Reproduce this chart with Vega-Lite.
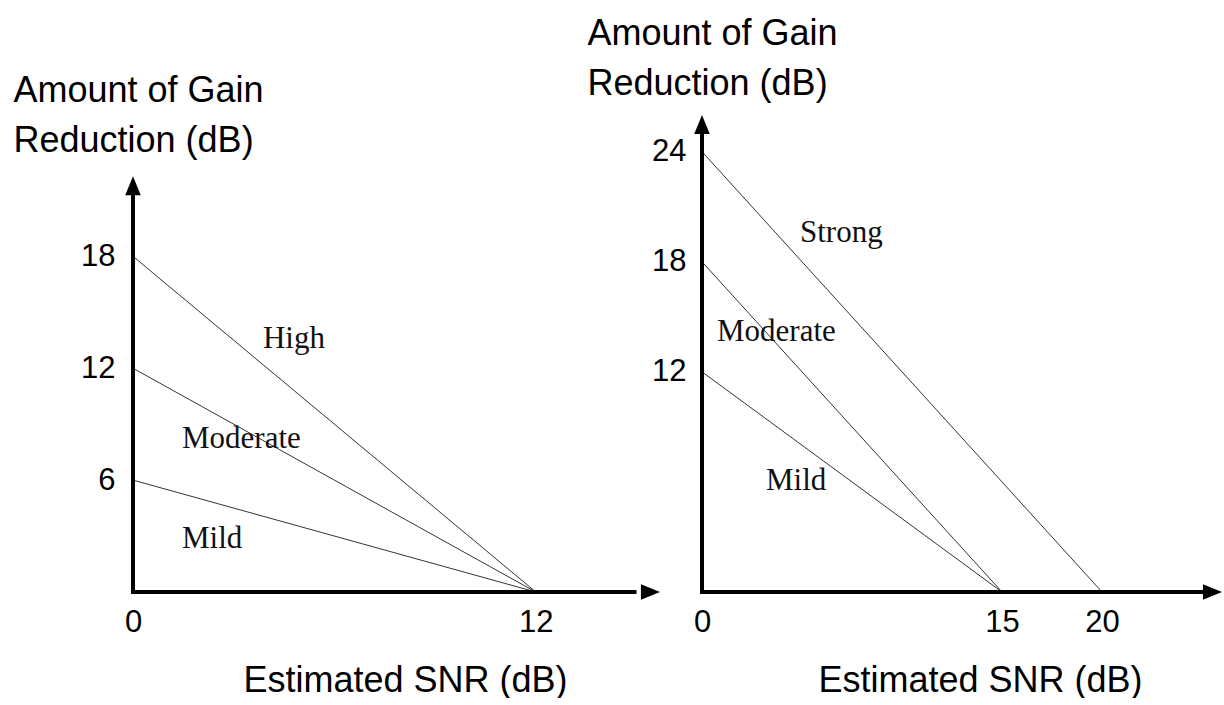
{
  "$schema": "https://vega.github.io/schema/vega-lite/v6.json",
  "background": "white",
  "padding": {"left": 13, "top": 15, "right": 0, "bottom": 0},
  "bounds": "flush",
  "spacing": 42,
  "datasets": {
    "lines": [
      {"panel": "A", "level": "High", "snr": 0, "gain": 18},
      {"panel": "A", "level": "High", "snr": 12, "gain": 0},
      {"panel": "A", "level": "Moderate", "snr": 0, "gain": 12},
      {"panel": "A", "level": "Moderate", "snr": 12, "gain": 0},
      {"panel": "A", "level": "Mild", "snr": 0, "gain": 6},
      {"panel": "A", "level": "Mild", "snr": 12, "gain": 0},
      {"panel": "B", "level": "Strong", "snr": 0, "gain": 24},
      {"panel": "B", "level": "Strong", "snr": 20, "gain": 0},
      {"panel": "B", "level": "Moderate", "snr": 0, "gain": 18},
      {"panel": "B", "level": "Moderate", "snr": 15, "gain": 0},
      {"panel": "B", "level": "Mild", "snr": 0, "gain": 12},
      {"panel": "B", "level": "Mild", "snr": 15, "gain": 0}
    ],
    "labels": [
      {"panel": "A", "text": "High", "snr": 3.87, "gain": 13.08},
      {"panel": "A", "text": "Moderate", "snr": 1.46, "gain": 7.72},
      {"panel": "A", "text": "Mild", "snr": 1.46, "gain": 2.36},
      {"panel": "B", "text": "Strong", "snr": 4.9, "gain": 19.07},
      {"panel": "B", "text": "Moderate", "snr": 0.75, "gain": 13.68},
      {"panel": "B", "text": "Mild", "snr": 3.2, "gain": 5.56}
    ],
    "one": [{}]
  },
  "config": {
    "view": {"stroke": null},
    "axis": {
      "domain": false,
      "ticks": false,
      "grid": false,
      "labelFlush": false,
      "labelFont": "Liberation Sans",
      "labelFontSize": 31,
      "labelColor": "#000",
      "titleFont": "Liberation Sans",
      "titleFontSize": 36,
      "titleFontWeight": "normal",
      "titleColor": "#000"
    }
  },
  "hconcat": [
    {
      "width": 527,
      "height": 477,
      "layer": [
        {
          "data": {"name": "lines"},
          "transform": [{"filter": "datum.panel === 'A'"}],
          "mark": {"type": "line", "color": "#333", "strokeWidth": 1},
          "encoding": {
            "x": {
              "field": "snr", "type": "quantitative",
              "scale": {"domain": [0, 15.7], "nice": false, "zero": true},
              "axis": {
                "values": [0, 12], "labelPadding": 15,
                "title": "Estimated SNR (dB)",
                "titleX": 272, "titleY": 99, "titleAlign": "center", "titleBaseline": "alphabetic"
              }
            },
            "y": {
              "field": "gain", "type": "quantitative",
              "scale": {"domain": [0, 25.58], "nice": false, "zero": true},
              "axis": {
                "values": [6, 12, 18], "labelPadding": 18,
                "title": ["Amount of Gain", "Reduction (dB)"],
                "titleAngle": 0, "titleAlign": "left", "titleBaseline": "alphabetic",
                "titleX": -120, "titleY": -14, "titleLineHeight": 50
              }
            },
            "detail": {"field": "level"}
          }
        },
        {
          "data": {"name": "labels"},
          "transform": [{"filter": "datum.panel === 'A'"}],
          "mark": {"type": "text", "font": "Liberation Serif", "fontSize": 31, "align": "left", "baseline": "alphabetic", "color": "#111"},
          "encoding": {
            "x": {"field": "snr", "type": "quantitative"},
            "y": {"field": "gain", "type": "quantitative"},
            "text": {"field": "text"}
          }
        },
        {
          "data": {"name": "one"},
          "mark": {"type": "rule", "color": "#000", "strokeWidth": 4},
          "encoding": {
            "x": {"datum": 0, "type": "quantitative"},
            "y": {"datum": 0, "type": "quantitative"},
            "y2": {"datum": 21.5}
          }
        },
        {
          "data": {"name": "one"},
          "mark": {"type": "rule", "color": "#000", "strokeWidth": 4},
          "encoding": {
            "x": {"datum": -0.06, "type": "quantitative"},
            "x2": {"datum": 15},
            "y": {"datum": 0, "type": "quantitative"}
          }
        },
        {
          "data": {"name": "one"},
          "mark": {"type": "point", "shape": "M0,0L-0.9,2.2L0.9,2.2Z", "size": 300, "filled": true, "color": "#000", "opacity": 1},
          "encoding": {
            "x": {"datum": 0, "type": "quantitative"},
            "y": {"datum": 22.3, "type": "quantitative"}
          }
        },
        {
          "data": {"name": "one"},
          "mark": {"type": "point", "shape": "M0,0L-2.2,-0.9L-2.2,0.9Z", "size": 300, "filled": true, "color": "#000", "opacity": 1},
          "encoding": {
            "x": {"datum": 15.7, "type": "quantitative"},
            "y": {"datum": 0, "type": "quantitative"}
          }
        }
      ]
    },
    {
      "width": 520,
      "height": 477,
      "layer": [
        {
          "data": {"name": "lines"},
          "transform": [{"filter": "datum.panel === 'B'"}],
          "mark": {"type": "line", "color": "#333", "strokeWidth": 1},
          "encoding": {
            "x": {
              "field": "snr", "type": "quantitative",
              "scale": {"domain": [0, 26], "nice": false, "zero": true},
              "axis": {
                "values": [0, 15, 20], "labelPadding": 15,
                "title": "Estimated SNR (dB)",
                "titleX": 278, "titleY": 99, "titleAlign": "center", "titleBaseline": "alphabetic"
              }
            },
            "y": {
              "field": "gain", "type": "quantitative",
              "scale": {"domain": [0, 26], "nice": false, "zero": true},
              "axis": {
                "values": [12, 18, 24], "labelPadding": 16,
                "title": ["Amount of Gain", "Reduction (dB)"],
                "titleAngle": 0, "titleAlign": "left", "titleBaseline": "alphabetic",
                "titleX": -115, "titleY": -71, "titleLineHeight": 50
              }
            },
            "detail": {"field": "level"}
          }
        },
        {
          "data": {"name": "labels"},
          "transform": [{"filter": "datum.panel === 'B'"}],
          "mark": {"type": "text", "font": "Liberation Serif", "fontSize": 31, "align": "left", "baseline": "alphabetic", "color": "#111"},
          "encoding": {
            "x": {"field": "snr", "type": "quantitative"},
            "y": {"field": "gain", "type": "quantitative"},
            "text": {"field": "text"}
          }
        },
        {
          "data": {"name": "one"},
          "mark": {"type": "rule", "color": "#000", "strokeWidth": 4},
          "encoding": {
            "x": {"datum": 0, "type": "quantitative"},
            "y": {"datum": 0, "type": "quantitative"},
            "y2": {"datum": 25.2}
          }
        },
        {
          "data": {"name": "one"},
          "mark": {"type": "rule", "color": "#000", "strokeWidth": 4},
          "encoding": {
            "x": {"datum": -0.1, "type": "quantitative"},
            "x2": {"datum": 25.3},
            "y": {"datum": 0, "type": "quantitative"}
          }
        },
        {
          "data": {"name": "one"},
          "mark": {"type": "point", "shape": "M0,0L-0.9,2.2L0.9,2.2Z", "size": 300, "filled": true, "color": "#000", "opacity": 1},
          "encoding": {
            "x": {"datum": 0, "type": "quantitative"},
            "y": {"datum": 26, "type": "quantitative"}
          }
        },
        {
          "data": {"name": "one"},
          "mark": {"type": "point", "shape": "M0,0L-2.2,-0.9L-2.2,0.9Z", "size": 300, "filled": true, "color": "#000", "opacity": 1},
          "encoding": {
            "x": {"datum": 26, "type": "quantitative"},
            "y": {"datum": 0, "type": "quantitative"}
          }
        }
      ]
    }
  ]
}
